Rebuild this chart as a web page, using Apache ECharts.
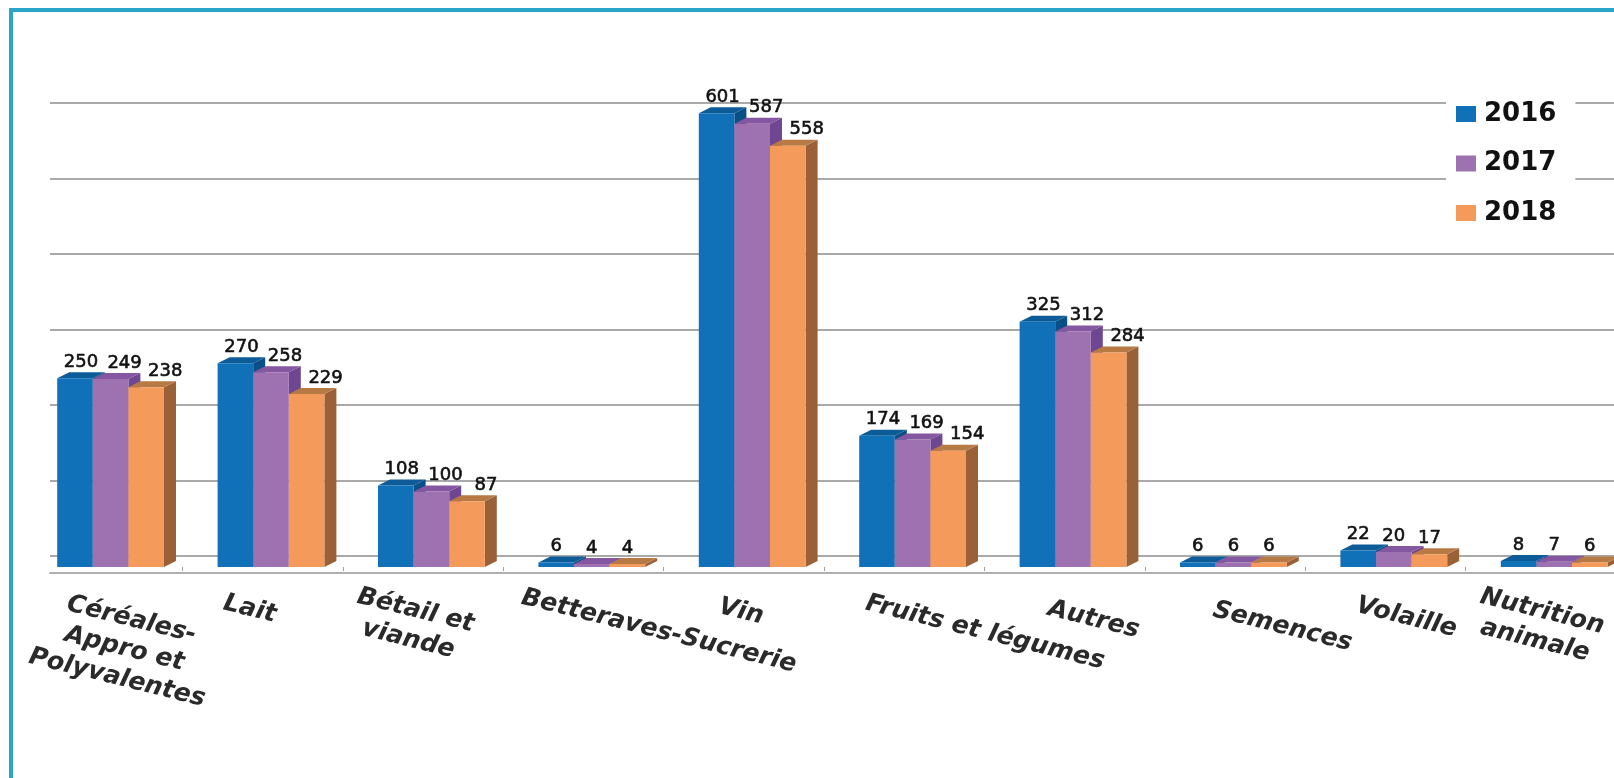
<!DOCTYPE html>
<html><head><meta charset="utf-8">
<style>html,body{margin:0;padding:0;background:#fff;overflow:hidden}#c{width:1614px;height:778px}</style>
<script src="https://cdn.jsdelivr.net/npm/echarts@6/dist/echarts.min.js"></script>
</head><body><div id="c"></div>
<script>
const categories = ["Céréales-\nAppro et\nPolyvalentes","Lait","Bétail et\nviande","Betteraves-Sucrerie","Vin","Fruits et légumes","Autres","Semences","Volaille","Nutrition\nanimale"];
const years = ["2016","2017","2018"];
const values2016 = [250,270,108,6,601,174,325,6,22,8];
const values2017 = [249,258,100,4,587,169,312,6,20,7];
const values2018 = [238,229,87,4,558,154,284,6,17,6];
const yTicksMax = 600;

const palette = [
  {front:'#1070b8',top:'#0d5c98',side:'#0a4f85'},
  {front:'#9e72b0',top:'#8457a0',side:'#6e4691'},
  {front:'#f49a5b',top:'#b87a45',side:'#9a6138'}
];
const seriesValues = [values2016,values2017,values2018];
const BAR_W = 35.6, DX = 12, DY = 6, START = -45;
const LABEL_SHIFT = [6,14,19];
// per-label horizontal displacement of the slanted category labels, as [top,right,bottom,left] text padding
const labelPadding = [
  [0,0,0,68],[0,19,0,0],[0,8,0,0],[0,0,0,163],[0,0,0,2],
  [0,0,0,174],[0,0,0,67],[0,0,0,126],[0,0,0,51],[0,0,0,0]
];

function makeRender(s){
  return function(params, api){
    const i = api.value(0), v = api.value(1);
    const top = api.coord([i,v]), base = api.coord([0,0]);
    const x0 = top[0] + START + s*BAR_W, x1 = x0 + BAR_W;
    const yT = top[1], yB = base[1];
    const c = palette[s];
    const shift = v >= 50 ? LABEL_SHIFT[s] : 0;
    return {type:'group',children:[
      {type:'polygon',shape:{points:[[x1,yT],[x1+DX,yT-DY],[x1+DX,yB-DY],[x1,yB]]},style:{fill:c.side}},
      {type:'polygon',shape:{points:[[x0,yT],[x0+DX,yT-DY],[x1+DX,yT-DY],[x1,yT]]},style:{fill:c.top}},
      {type:'rect',shape:{x:x0,y:yT,width:BAR_W,height:yB-yT},style:{fill:c.front}},
      {type:'text',z2:50,style:{text:String(v),x:(x0+x1)/2+shift,y:yT-16,align:'center',verticalAlign:'middle',
        font:'18px "DejaVu Sans"',fill:'#111',stroke:'#111',lineWidth:0.6}}
    ]};
  };
}

const chart = echarts.init(document.getElementById('c'),null,{renderer:'canvas'});
chart.setOption({
  animation:false,
  backgroundColor:'#fff',
  graphic:[{type:'rect',silent:true,z:100,shape:{x:11,y:10,width:1800,height:1000},
    style:{fill:'none',stroke:'#2aa5c6',lineWidth:4}}],
  legend:{
    orient:'vertical',left:1446,top:93,padding:[8,19,8,10],
    backgroundColor:'#fff',itemWidth:20,itemHeight:16,itemGap:23.5,z:10,
    data:years.map(y=>({name:y,icon:'rect'})),
    textStyle:{fontFamily:'DejaVu Sans',fontWeight:'bold',fontSize:26,color:'#111',padding:[0,0,0,3]}
  },
  grid:[
    {left:50,right:0,top:103,height:453,outerBoundsMode:'none'},
    {left:22,width:1604,top:114,height:453,outerBoundsMode:'none'}
  ],
  xAxis:[
    {gridIndex:0,type:'value',min:0,max:1,offset:17,
      axisLine:{show:true,onZero:false,lineStyle:{color:'#b0b0b0',width:2}},
      axisTick:{show:false},axisLabel:{show:false},splitLine:{show:false}},
    {gridIndex:1,type:'category',offset:6,
      data:categories.map((c,i)=>({value:c,textStyle:{padding:labelPadding[i],align:'center',verticalAlign:'top'}})),
      axisLine:{show:false},
      axisTick:{show:true,length:4,interval:(i)=>i>0,lineStyle:{color:'#a0a0a0',width:1}},
      axisLabel:{show:true,interval:0,rotate:-14,margin:24,
        fontFamily:'DejaVu Sans',fontStyle:'italic',fontWeight:'bold',fontSize:25,lineHeight:30,color:'#2a2a2a'}}
  ],
  yAxis:[
    {gridIndex:0,type:'value',min:0,max:yTicksMax,interval:100,
      axisLine:{show:false},axisTick:{show:false},axisLabel:{show:false},
      splitLine:{show:true,lineStyle:{color:'#a9a9a9',width:2}}},
    {gridIndex:1,type:'value',min:0,max:yTicksMax,interval:100,
      axisLine:{show:false},axisTick:{show:false},axisLabel:{show:false},splitLine:{show:false}}
  ],
  series:years.map((y,s)=>({
    name:y,type:'custom',xAxisIndex:1,yAxisIndex:1,clip:false,z:2+s,
    itemStyle:{color:palette[s].front},
    renderItem:makeRender(s),
    encode:{x:0,y:1},
    data:seriesValues[s].map((v,i)=>[i,v])
  }))
});
</script></body></html>
